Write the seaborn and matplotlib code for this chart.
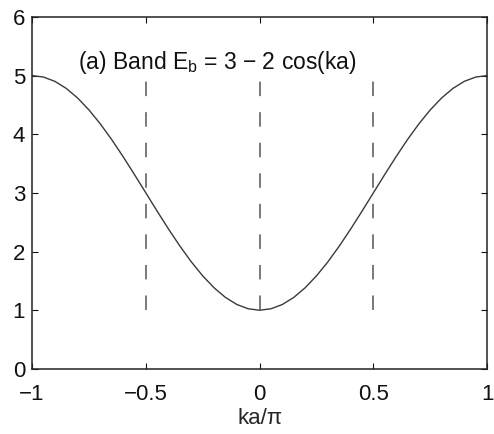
# bande d'énergie E_b = 3 - 2 cos(ka)
import pandas as pd
import matplotlib
matplotlib.use("Agg")
import matplotlib.pyplot as plt
import seaborn as sns

# valeurs
ka_pi = [-1.0, -0.95, -0.9, -0.85, -0.8, -0.75, -0.7, -0.65, -0.6, -0.55, -0.5,
         -0.45, -0.4, -0.35, -0.3, -0.25, -0.2, -0.15, -0.1, -0.05, 0.0,
         0.05, 0.1, 0.15, 0.2, 0.25, 0.3, 0.35, 0.4, 0.45, 0.5,
         0.55, 0.6, 0.65, 0.7, 0.75, 0.8, 0.85, 0.9, 0.95, 1.0]
energie = [5.0, 4.975, 4.902, 4.782, 4.618, 4.414, 4.176, 3.908, 3.618, 3.313, 3.0,
           2.687, 2.382, 2.092, 1.824, 1.586, 1.382, 1.218, 1.098, 1.025, 1.0,
           1.025, 1.098, 1.218, 1.382, 1.586, 1.824, 2.092, 2.382, 2.687, 3.0,
           3.313, 3.618, 3.908, 4.176, 4.414, 4.618, 4.782, 4.902, 4.975, 5.0]
pos_tirets = [-0.5, 0.0, 0.5]
tirets_bas, tirets_haut = 1.0, 5.0
xticks = [-1, -0.5, 0, 0.5, 1]
xtick_labels = ["\u22121", "\u22120.5", "0", "0.5", "1"]
yticks = [0, 1, 2, 3, 4, 5, 6]

sns.set_style("ticks")
plt.rcParams['font.family'] = ['Liberation Sans', 'DejaVu Sans']
plt.rcParams['mathtext.fontset'] = 'custom'
plt.rcParams['mathtext.rm'] = 'Liberation Sans'

df = pd.DataFrame({"ka": ka_pi, "E": energie})

fig, ax = plt.subplots(figsize=(4.94, 4.34), dpi=100)
fig.subplots_adjust(left=0.065, right=0.986, top=0.961, bottom=0.15)

sns.lineplot(data=df, x="ka", y="E", color="#3a3a3a", linewidth=1.0, ax=ax)
ax.vlines(pos_tirets, tirets_bas, tirets_haut, colors="#555555",
          linestyles=(0, (9.5, 10.5)), linewidth=1.1)

ax.text(-0.8, 5.22, "(a) Band E$_\\mathregular{b}$ = 3 \u2212 2 cos(ka)",
        fontsize=16.5, va="center", ha="left", color="#111111",
        bbox=dict(facecolor="white", edgecolor="none", pad=0))

ax.set_xlim(-1, 1)
ax.set_ylim(0, 6)
ax.set_xticks(xticks)
ax.set_xticklabels(xtick_labels)
ax.set_yticks(yticks)
ax.tick_params(direction="in", top=True, right=True, length=4, width=0.8,
               labelsize=16, colors="#111111")
ax.tick_params(axis="x", pad=11)
ax.tick_params(axis="y", pad=5)
for s in ax.spines.values():
    s.set_linewidth(1.1)
    s.set_color("#222222")
ax.set_xlabel("ka/\u03c0", fontsize=16, labelpad=2)
ax.set_ylabel("")

plt.savefig("out.png", dpi=100)
